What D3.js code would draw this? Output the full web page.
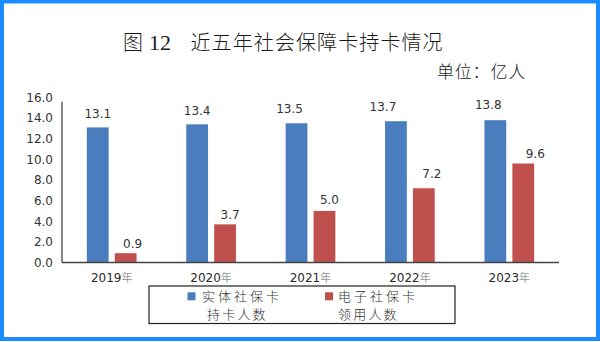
<!DOCTYPE html>
<html>
<head>
<meta charset="utf-8">
<script src="https://cdn.jsdelivr.net/npm/d3@7"></script>
<style>
  html, body { margin: 0; padding: 0; background: #fff; }
  svg { display: block; }
</style>
</head>
<body>
<svg id="chart" width="600" height="342"></svg>
<script>
// Social security card holders, last five years (unit: 100 million people)
const years = ['2019', '2020', '2021', '2022', '2023'];
const physicalCard = [13.1, 13.4, 13.5, 13.7, 13.8];   // 实体社保卡持卡人数
const electronicCard = [0.9, 3.7, 5.0, 7.2, 9.6];      // 电子社保卡领用人数
const yTicks = [0, 2, 4, 6, 8, 10, 12, 14, 16];
const seriesNames = [['实体社保卡', '持卡人数'], ['电子社保卡', '领用人数']];

// value-label nudges (px), per series and year
const labelDx = [[0, 0, -7, -13, -7], [7, 5, 5, 8, 12]];
const labelDy = [[-14, -14, -14, -14, -15], [-9, -10, -11, -14, -10]];

const colors = ['#4a7dbd', '#c0504d'];
const cjk = '"Noto Sans CJK SC", "Noto Sans", sans-serif';
const sans = '"DejaVu Sans", sans-serif';

const svg = d3.select('#chart');

// blue outer frame
svg.append('rect')
  .attr('x', 2).attr('y', 1.5).attr('width', 596).attr('height', 337.5)
  .attr('fill', '#fff').attr('stroke', '#1a8cff').attr('stroke-width', 4);

const left = 62, right = 559, base = 262.5;

const y = d3.scaleLinear().domain([0, 16]).range([base, base - 165]);
const x0 = d3.scaleBand().domain(years).range([left, right])
  .paddingInner(0.5).paddingOuter(0.25);
const x1 = d3.scaleBand().domain([0, 1]).range([0, x0.bandwidth()]).paddingInner(0.22);

// title
const title = svg.append('g').attr('fill', '#1a1a1a');
title.append('text').attr('x', 123).attr('y', 50)
  .style('font-family', cjk).style('font-size', '20px').style('font-weight', 300).text('图');
title.append('text').attr('x', 149).attr('y', 50)
  .style('font-family', '"Liberation Serif", serif').style('font-size', '22px').text('12');
title.append('text').attr('x', 190.5).attr('y', 50)
  .style('font-family', cjk).style('font-size', '20px').style('font-weight', 300)
  .style('letter-spacing', '1.1px')
  .text('近五年社会保障卡持卡情况');

svg.append('text').attr('x', 437).attr('y', 77.5)
  .attr('fill', '#1a1a1a')
  .style('font-family', cjk).style('font-size', '17px').style('font-weight', 300)
  .style('letter-spacing', '0.8px')
  .text('单位：亿人');

// y axis
const yAxis = d3.axisLeft(y).tickValues(yTicks).tickFormat(d3.format('.1f')).tickSize(0).tickPadding(9);
const gy = svg.append('g').attr('transform', `translate(${left},0)`).call(yAxis);
gy.select('.domain').remove();
gy.selectAll('text').attr('fill', '#333').style('font-family', sans).style('font-size', '12px');
svg.append('line').attr('x1', left).attr('x2', left).attr('y1', y(15.6)).attr('y2', base)
  .attr('stroke', '#444').attr('stroke-width', 1.3);

// bars
const series = [physicalCard, electronicCard];
series.forEach((vals, s) => {
  const g = svg.append('g');
  g.selectAll('rect').data(vals).join('rect')
    .attr('x', (d, i) => x0(years[i]) + x1(s))
    .attr('width', x1.bandwidth())
    .attr('y', d => y(d))
    .attr('height', d => base - y(d))
    .attr('fill', colors[s]);
  g.selectAll('text').data(vals).join('text')
    .attr('x', (d, i) => x0(years[i]) + x1(s) + x1.bandwidth() / 2 + labelDx[s][i])
    .attr('y', (d, i) => y(d) + labelDy[s][i])
    .attr('dy', '0.35em')
    .attr('text-anchor', 'middle')
    .attr('fill', '#333')
    .style('font-family', sans).style('font-size', '12px')
    .text(d => d.toFixed(1));
});

// x axis
svg.append('line').attr('x1', left).attr('x2', right).attr('y1', base).attr('y2', base)
  .attr('stroke', '#444').attr('stroke-width', 1.3);
const xl = svg.append('g').selectAll('text').data(years).join('text')
  .attr('x', d => x0(d) + x0.bandwidth() / 2)
  .attr('y', 281.5)
  .attr('text-anchor', 'middle')
  .style('font-family', sans).style('font-size', '12px');
xl.append('tspan').attr('fill', '#2a2a2a').text(d => d);
xl.append('tspan').attr('fill', '#999').style('font-family', cjk).style('font-size', '11px').text('年');

// legend
svg.append('rect').attr('x', 149).attr('y', 286).attr('width', 306).attr('height', 37.5)
  .attr('fill', 'none').attr('stroke', '#222').attr('stroke-width', 1.2);
const legendX = [187.5, 325];
const textX = [[202, 207], [338, 338]];
seriesNames.forEach((lines, s) => {
  svg.append('rect').attr('x', legendX[s]).attr('y', 292.3).attr('width', 8).attr('height', 8)
    .attr('fill', colors[s]);
  lines.forEach((t, k) => {
    svg.append('text').attr('x', textX[s][k]).attr('y', k === 0 ? 300.5 : 318.5)
      .attr('fill', '#333')
      .style('font-family', cjk).style('font-size', '13px').style('font-weight', 300)
      .style('letter-spacing', k === 0 ? '3px' : '2.2px')
      .text(t);
  });
});
</script>
</body>
</html>
